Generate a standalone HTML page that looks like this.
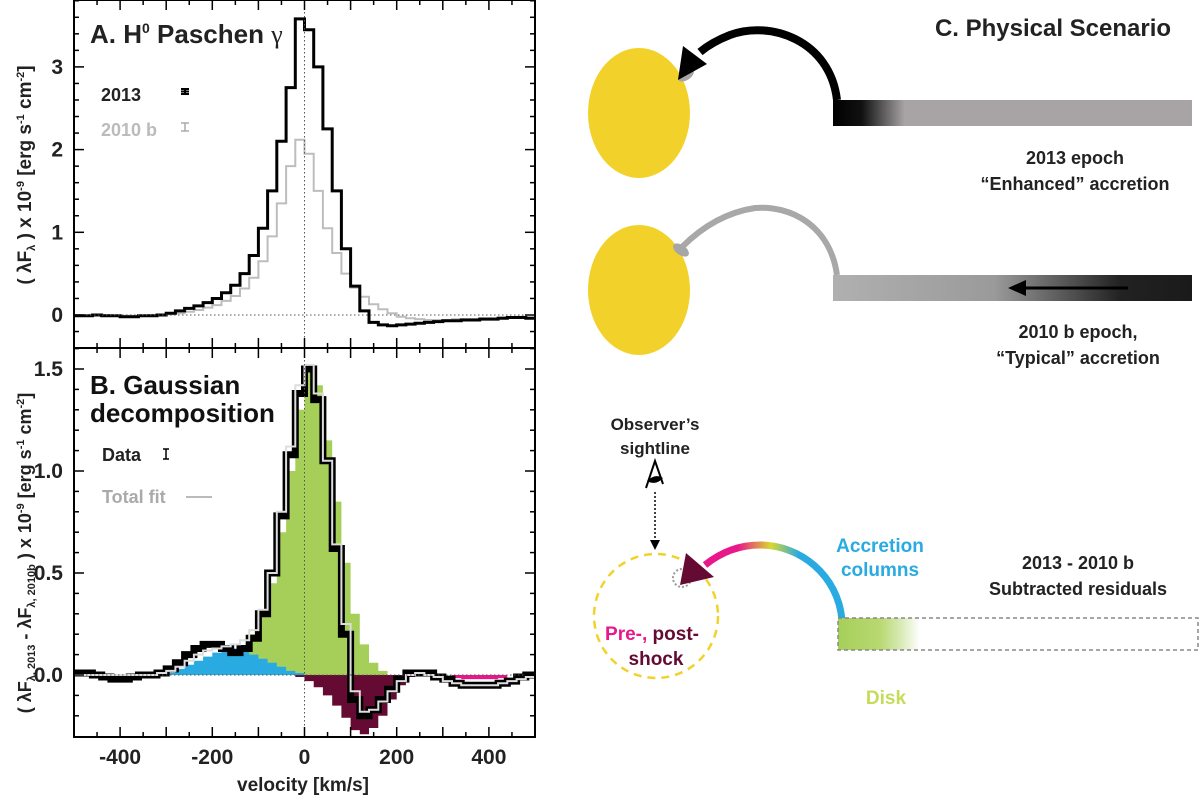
<!DOCTYPE html>
<html><head><meta charset="utf-8">
<style>
html,body{margin:0;padding:0;background:#fff;}
svg{display:block;font-family:"Liberation Sans",sans-serif;}
.b{font-weight:bold;}
</style></head>
<body>
<svg id="fig" width="1200" height="797" viewBox="0 0 1200 797">
<defs>
<linearGradient id="g1" x1="0" x2="1"><stop offset="0" stop-color="#000"/><stop offset="0.08" stop-color="#111"/><stop offset="0.2" stop-color="#a8a4a6"/><stop offset="1" stop-color="#a8a4a6"/></linearGradient>
<linearGradient id="g2" x1="0" x2="1"><stop offset="0" stop-color="#b0b0b0"/><stop offset="0.45" stop-color="#9a9a9a"/><stop offset="0.8" stop-color="#222"/><stop offset="1" stop-color="#1a1a1a"/></linearGradient>
<linearGradient id="g3" x1="0" x2="1"><stop offset="0" stop-color="#a6cf5a"/><stop offset="0.5" stop-color="#b8d870"/><stop offset="1" stop-color="#a6cf5a" stop-opacity="0"/></linearGradient>
<linearGradient id="g4" x1="680" y1="0" x2="845" y2="0" gradientUnits="userSpaceOnUse"><stop offset="0" stop-color="#e8178a"/><stop offset="0.35" stop-color="#e8178a"/><stop offset="0.55" stop-color="#d8d830"/><stop offset="0.72" stop-color="#29abe2"/><stop offset="1" stop-color="#29abe2"/></linearGradient>
</defs>
<g id="panelA"></g>
<g id="panelB"></g>

<text x="90" y="43" class="b" font-size="26" fill="#222">A. H<tspan font-size="14" dy="-10">0</tspan><tspan dy="10"> Paschen </tspan><tspan font-family="Liberation Serif" font-weight="normal">γ</tspan></text>
<text x="101" y="101" class="b" font-size="18" fill="#222">2013</text>
<g stroke="#000" stroke-width="2"><line x1="185" y1="89" x2="185" y2="94"/><line x1="181" y1="91.5" x2="189" y2="91.5"/><line x1="181" y1="89" x2="189" y2="89"/><line x1="181" y1="94" x2="189" y2="94"/></g>
<text x="101" y="136" class="b" font-size="18" fill="#bbb">2010 b</text>
<g stroke="#aaa" stroke-width="1.5"><line x1="185" y1="123" x2="185" y2="131"/><line x1="181" y1="123" x2="189" y2="123"/><line x1="181" y1="131" x2="189" y2="131"/></g>
<text x="90" y="394" class="b" font-size="26" fill="#111">B. Gaussian</text>
<text x="90" y="422" class="b" font-size="26" fill="#111">decomposition</text>
<text x="102" y="461" class="b" font-size="18" fill="#222">Data</text>
<g stroke="#000" stroke-width="1.5"><line x1="166" y1="449" x2="166" y2="459"/><line x1="163" y1="449" x2="169" y2="449"/><line x1="163" y1="459" x2="169" y2="459"/></g>
<text x="102" y="503" class="b" font-size="18" fill="#aaa">Total fit</text>
<line x1="186" y1="497" x2="212" y2="497" stroke="#bbb" stroke-width="2"/>

<text transform="translate(31,175) rotate(-90)" text-anchor="middle" class="b" font-size="19" fill="#222">( λF<tspan font-size="11" dy="4">λ</tspan><tspan dy="-4"> ) x 10</tspan><tspan font-size="11" dy="-7">-9</tspan><tspan dy="7"> [erg s</tspan><tspan font-size="11" dy="-7">-1</tspan><tspan dy="7"> cm</tspan><tspan font-size="11" dy="-7">-2</tspan><tspan dy="7">]</tspan></text>
<text transform="translate(31,553) rotate(-90)" text-anchor="middle" class="b" font-size="18" fill="#222">( λF<tspan font-size="11" dy="4">λ, 2013</tspan><tspan dy="-4"> - λF</tspan><tspan font-size="11" dy="4">λ, 2010b</tspan><tspan dy="-4"> ) x 10</tspan><tspan font-size="11" dy="-7">-9</tspan><tspan dy="7"> [erg s</tspan><tspan font-size="11" dy="-7">-1</tspan><tspan dy="7"> cm</tspan><tspan font-size="11" dy="-7">-2</tspan><tspan dy="7">]</tspan></text>
<text x="303" y="791" text-anchor="middle" class="b" font-size="19" fill="#222">velocity [km/s]</text>

<g>
<text x="1053" y="36" text-anchor="middle" class="b" font-size="24" fill="#222">C. Physical Scenario</text>
<ellipse cx="639" cy="113" rx="51" ry="65" fill="#f2d22a"/>
<ellipse cx="686" cy="75" rx="9" ry="5" transform="rotate(-35 686 75)" fill="#a6a6a6"/>
<rect x="833" y="100" width="359" height="26" fill="url(#g1)"/>
<path d="M837,100 C830,40 770,20 730,35 Q712,42 700,52" fill="none" stroke="#000" stroke-width="8"/>
<polygon points="678,80 683,46 707,64" fill="#000"/>
<text x="1075" y="164" text-anchor="middle" class="b" font-size="18" fill="#222">2013 epoch</text>
<text x="1075" y="190" text-anchor="middle" class="b" font-size="18" fill="#222">“Enhanced” accretion</text>

<ellipse cx="639" cy="290" rx="51" ry="65" fill="#f2d22a"/>
<ellipse cx="681" cy="250" rx="9" ry="5" transform="rotate(35 681 250)" fill="#a6a6a6"/>
<rect x="833" y="275" width="359" height="26" fill="url(#g2)"/>
<path d="M837,275 C830,225 790,205 755,208 Q715,214 682,247" fill="none" stroke="#a8a8a8" stroke-width="6"/>
<line x1="1128" y1="288" x2="1022" y2="288" stroke="#000" stroke-width="3"/>
<polygon points="1008,288 1026,280 1026,296" fill="#000"/>
<text x="1078" y="338" text-anchor="middle" class="b" font-size="18" fill="#222">2010 b epoch,</text>
<text x="1078" y="364" text-anchor="middle" class="b" font-size="18" fill="#222">“Typical” accretion</text>

<text x="655" y="430" text-anchor="middle" class="b" font-size="17" fill="#222">Observer’s</text>
<text x="655" y="454" text-anchor="middle" class="b" font-size="17" fill="#222">sightline</text>
<g><path d="M646,488 L655,461 L663,484" fill="none" stroke="#000" stroke-width="2"/><path d="M647,481 Q655,473 663,478 Q656,486 647,481Z" fill="#000"/></g>
<line x1="655" y1="492" x2="655" y2="540" stroke="#000" stroke-width="1.5" stroke-dasharray="2,2"/>
<polygon points="650,540 660,540 655,550" fill="#000"/>
<circle cx="656" cy="616" r="62" fill="none" stroke="#f2d22a" stroke-width="2.5" stroke-dasharray="8,6"/>
<circle cx="682" cy="578" r="9" fill="none" stroke="#999" stroke-width="2" stroke-dasharray="2,2"/>
<path d="M842,620 C838,575 800,545 760,545 Q730,545 705,565" fill="none" stroke="url(#g4)" stroke-width="7"/>
<polygon points="680,585 686,553 714,577" fill="#650a33"/>
<text x="880" y="552" text-anchor="middle" class="b" font-size="19" fill="#29abe2">Accretion</text>
<text x="880" y="576" text-anchor="middle" class="b" font-size="19" fill="#29abe2">columns</text>
<text x="1078" y="569" text-anchor="middle" class="b" font-size="18" fill="#222">2013 - 2010 b</text>
<text x="1078" y="595" text-anchor="middle" class="b" font-size="18" fill="#222">Subtracted residuals</text>
<rect x="838" y="618" width="82" height="32" fill="url(#g3)"/>
<rect x="838" y="618" width="360" height="32" fill="none" stroke="#888" stroke-width="1.5" stroke-dasharray="4,3"/>
<text x="886" y="704" text-anchor="middle" class="b" font-size="19" fill="#c4dc5a">Disk</text>
<text x="652" y="640" text-anchor="middle" class="b" font-size="19"><tspan fill="#e8178a">Pre-,</tspan><tspan fill="#650a33"> post-</tspan></text>
<text x="656" y="665" text-anchor="middle" class="b" font-size="19" fill="#650a33">shock</text>
</g>
</svg>
<script>
const velocities = [-490,-470,-450,-430,-410,-390,-370,-350,-330,-310,-290,-270,-250,-230,-210,-190,-170,-150,-130,-110,-90,-70,-50,-30,-10,10,30,50,70,90,110,130,150,170,190,210,230,250,270,290,310,330,350,370,390,410,430,450,470,490];
const flux2013 = [-0.01,-0.01,0,-0.01,-0.01,-0.02,-0.02,-0.01,-0.01,0,0.02,0.05,0.08,0.11,0.15,0.2,0.27,0.36,0.5,0.72,1.05,1.5,2.1,2.75,3.58,3.45,3.0,2.25,1.5,0.8,0.35,0.05,-0.09,-0.12,-0.13,-0.12,-0.11,-0.1,-0.09,-0.08,-0.07,-0.07,-0.06,-0.06,-0.05,-0.05,-0.04,-0.03,-0.03,-0.04];
const flux2010b = [-0.01,-0.01,0,0,-0.01,-0.01,-0.01,-0.01,0,0,0.01,0.02,0.04,0.06,0.09,0.12,0.17,0.23,0.32,0.45,0.65,0.95,1.35,1.8,2.12,1.95,1.5,1.05,0.75,0.5,0.33,0.22,0.13,0.07,0.02,-0.02,-0.04,-0.05,-0.06,-0.06,-0.06,-0.05,-0.05,-0.05,-0.04,-0.04,-0.03,-0.03,-0.02,-0.03];
const residData = [0.01,0.01,0,-0.01,-0.02,-0.02,-0.01,0,0,0.01,0.03,0.06,0.1,0.13,0.15,0.15,0.13,0.11,0.13,0.18,0.3,0.5,0.78,1.08,1.38,1.5,1.35,1.05,0.62,0.2,-0.12,-0.2,-0.17,-0.12,-0.07,-0.02,0.01,0.01,0.01,-0.01,-0.02,-0.04,-0.05,-0.05,-0.05,-0.05,-0.04,-0.03,-0.01,0];
const totalFit = [0,0,0,0,0,0,0,0,0,0.01,0.02,0.04,0.07,0.1,0.12,0.13,0.14,0.15,0.17,0.22,0.32,0.5,0.8,1.12,1.42,1.52,1.38,1.05,0.64,0.25,-0.08,-0.18,-0.17,-0.13,-0.08,-0.03,0,0.01,0,-0.01,-0.03,-0.04,-0.05,-0.05,-0.05,-0.05,-0.04,-0.03,-0.02,-0.01];
const compDisk = [0,0,0,0,0,0,0,0,0,0,0,0,0,0.01,0.02,0.03,0.05,0.08,0.13,0.2,0.3,0.45,0.7,1.0,1.3,1.52,1.42,1.15,0.85,0.55,0.3,0.15,0.06,0.02,0,0,0,0,0,0,0,0,0,0,0,0,0,0,0,0];
const compPreShock = [0,0,0,0,0,0,0,0,0,0,0.01,0.03,0.05,0.07,0.09,0.11,0.12,0.13,0.12,0.1,0.08,0.06,0.04,0.02,0.01,0,0,0,0,0,0,0,0,0,0,0,0,0,0,0,0,0,0,0,0,0,0,0,0,0];
const compPostShock = [0,0,0,0,0,0,0,0,0,0,0,0,0,0,0,0,0,0,0,0,0,0,0,0,-0.01,-0.03,-0.06,-0.1,-0.15,-0.21,-0.27,-0.29,-0.26,-0.2,-0.12,-0.05,-0.01,0,0,0,0,0,0,0,0,0,0,0,0,0];
const compMagenta = [0,0,0,0,0,0,0,0,0,0,0,0,0,0,0,0,0,0,0,0,0,0,0,0,0,0,0,0,0,0,0,0,0,0,0,0,0,0,0,0,0,-0.015,-0.02,-0.02,-0.02,-0.02,-0.015,0,0,0];
const xTicks = [-400,-200,0,200,400];
const yTicksA = [0,1,2,3];
const yTicksB = [0.0,0.5,1.0,1.5];
const yTicksBLabels = ["0.0","0.5","1.0","1.5"];

const NS = "http://www.w3.org/2000/svg";
const L = 74, R = 535;
const xs = v => L + (v + 500) / 1000 * (R - L);
const AT = 0, AB = 348, BT = 348, BB = 737;
const yA = v => 315 - v * 82.7;
const yB = v => 675 - v * 204;
const BIN = 20;

function el(parent, tag, attrs) {
  const e = document.createElementNS(NS, tag);
  for (const k in attrs) e.setAttribute(k, attrs[k]);
  parent.appendChild(e);
  return e;
}
function stepPts(vals, yf) {
  let p = [];
  vals.forEach((v, i) => {
    const x0 = Math.max(L, xs(velocities[i] - BIN / 2)), x1 = Math.min(R, xs(velocities[i] + BIN / 2));
    p.push(x0.toFixed(1) + "," + yf(v).toFixed(1));
    p.push(x1.toFixed(1) + "," + yf(v).toFixed(1));
  });
  return p;
}
function stepLine(g, vals, yf, stroke, w, name) {
  const e = el(g, "polyline", {points: stepPts(vals, yf).join(" "), fill: "none", stroke: stroke, "stroke-width": w, "stroke-linejoin": "miter"});
  
  
}
function stepArea(g, vals, yf, fill, name) {
  const p = stepPts(vals, yf);
  p.unshift(L + "," + yf(0)); p.push(R + "," + yf(0));
  const e = el(g, "polygon", {points: p.join(" "), fill: fill});
  
  
}
function frame(g, top, bot, yf, yt, ylab, minorStep, yMin, yMax, name, showX) {
  const z = el(g, "line", {x1: L, x2: R, y1: yf(0), y2: yf(0), stroke: "#555", "stroke-width": 1, "stroke-dasharray": "1.5,2.5"});
  
  
  const zv = el(g, "line", {x1: xs(0), x2: xs(0), y1: top, y2: bot, stroke: "#555", "stroke-width": 1, "stroke-dasharray": "1.5,2.5"});
  
  
  for (let v = -450; v <= 450; v += 50) {
    const major = v % 100 === 0, len = major ? 10 : 5;
    el(g, "line", {x1: xs(v), x2: xs(v), y1: bot, y2: bot - len, stroke: "#000", "stroke-width": 1.5});
    el(g, "line", {x1: xs(v), x2: xs(v), y1: top, y2: top + len, stroke: "#000", "stroke-width": 1.5});
  }
  for (let v = Math.ceil(yMin / minorStep) * minorStep; v <= yMax + 1e-9; v += minorStep) {
    const major = yt.some(t => Math.abs(t - v) < 1e-6), len = major ? 10 : 5;
    el(g, "line", {x1: L, x2: L + len, y1: yf(v), y2: yf(v), stroke: "#000", "stroke-width": 1.5});
    el(g, "line", {x1: R, x2: R - len, y1: yf(v), y2: yf(v), stroke: "#000", "stroke-width": 1.5});
  }
  yt.forEach((t, i) => {
    const tx = el(g, "text", {x: 63, y: yf(t) + 7, "text-anchor": "end", "font-size": 21, "font-weight": "bold", fill: "#222"});
    tx.textContent = ylab[i];
    
    
  });
  if (showX) xTicks.forEach(t => {
    const tx = el(g, "text", {x: xs(t), y: 764, "text-anchor": "middle", "font-size": 21, "font-weight": "bold", fill: "#222"});
    tx.textContent = String(t);
    
    
  });
  const f = el(g, "rect", {x: L, y: top, width: R - L, height: bot - top, fill: "none", stroke: "#000", "stroke-width": 2});
  
  
}
const gA = document.getElementById("panelA");
const gB = document.getElementById("panelB");
stepLine(gA, flux2010b, yA, "#bdbdbd", 2, "line-2010b");
stepLine(gA, flux2013, yA, "#000", 3, "line-2013");
frame(gA, AT, AB, yA, yTicksA, yTicksA.map(String), 0.2, -0.4, 3.8, "panel-a", false);
stepArea(gB, compDisk, yB, "#a6cf5a", "component-disk");
stepArea(gB, compPreShock, yB, "#29abe2", "component-preshock");
stepArea(gB, compPostShock, yB, "#650a33", "component-postshock");
stepArea(gB, compMagenta, yB, "#e8178a", "component-magenta");
stepLine(gB, residData, yB, "#000", 7, "residual-data");
stepLine(gB, totalFit, yB, "#ddd", 2, "total-fit");
frame(gB, BT, BB, yB, yTicksB, yTicksBLabels, 0.1, -0.3, 1.6, "panel-b", true);
</script>
</body></html>
